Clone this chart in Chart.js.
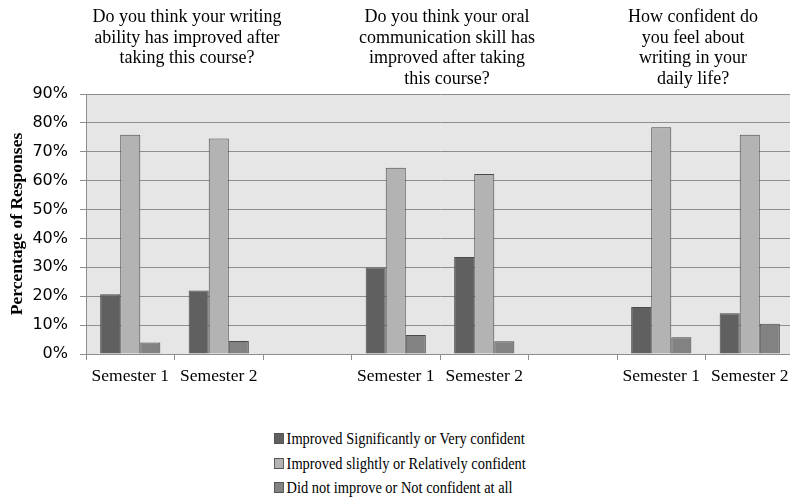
<!DOCTYPE html>
<html>
<head>
<meta charset="utf-8">
<script src="https://cdn.jsdelivr.net/npm/chart.js@4.4.1/dist/chart.umd.min.js"></script>
<style>
  html, body { margin: 0; padding: 0; background: #fff; overflow: hidden; }
  #wrap { position: relative; width: 800px; height: 503px; }
  #legend {
    position: absolute; top: 429px; left: 0; width: 800px; text-align: center;
    font-family: "Liberation Serif", "Times New Roman", serif; font-size: 16px; color: #000;
  }
  #legend ul { display: inline-block; list-style: none; margin: 0; padding: 0; text-align: left; transform: scaleX(0.9); transform-origin: center top; }
  #legend li { height: 24.5px; line-height: 20px; white-space: nowrap; }
  #legend span.box { display: inline-block; width: 9px; height: 9px; margin-right: 3px; border: 1px solid #555; vertical-align: 0px; }
</style>
</head>
<body>
<div id="wrap">
  <canvas id="grafico" width="800" height="392"></canvas>
  <div id="legend"></div>
</div>
<script>
// Dados do gráfico
const categorias = ["Semester 1", "Semester 2", "", "Semester 1", "Semester 2", "", "Semester 1", "Semester 2"];
const muitoConfiante = [20.7, 22.0, null, 29.9, 33.6, null, 16.3, 14.1];
const relativamenteConfiante = [75.9, 74.6, null, 64.5, 62.3, null, 78.5, 75.9];
const naoConfiante = [4.0, 4.5, null, 6.6, 4.4, null, 5.8, 10.5];
const nomesSeries = [
  "Improved Significantly or Very confident",
  "Improved slightly or Relatively confident",
  "Did not improve or Not confident at all"
];
const perguntas = [
  ["Do you think your writing", "ability has improved after", "taking this course?"],
  ["Do you think your oral", "communication skill has", "improved after taking", "this course?"],
  ["How confident do", "you feel about", "writing in your", "daily life?"]
];
const yTicks = [0, 10, 20, 30, 40, 50, 60, 70, 80, 90];

const serif = "'Liberation Serif', 'Times New Roman', serif";

// fundo cinza da área do gráfico
const fundoPlugin = {
  id: "fundo",
  beforeDraw(chart) {
    const { ctx, chartArea: a } = chart;
    ctx.save();
    ctx.fillStyle = "#e6e6e6";
    ctx.fillRect(a.left, a.top, a.right - a.left, a.bottom - a.top);
    ctx.restore();
  }
};

// perguntas acima de cada grupo
const perguntasPlugin = {
  id: "perguntas",
  afterDraw(chart) {
    const ctx = chart.ctx;
    const x = chart.scales.x;
    const posicoes = [0.64, 3.58, 6.36];
    ctx.save();
    ctx.fillStyle = "#000";
    ctx.font = "18px " + serif;
    ctx.textAlign = "center";
    ctx.textBaseline = "middle";
    perguntas.forEach((linhas, i) => {
      const px = x.getPixelForValue(posicoes[i]);
      linhas.forEach((t, j) => ctx.fillText(t, px, 17.5 + j * 20.5));
    });
    ctx.restore();
  }
};

const cores = ["#606060", "#b3b3b3", "#828282"];
const series = [muitoConfiante, relativamenteConfiante, naoConfiante];

const grafico = new Chart(document.getElementById("grafico"), {
  type: "bar",
  data: {
    labels: categorias,
    datasets: series.map((d, i) => ({
      label: nomesSeries[i],
      data: d,
      backgroundColor: cores[i],
      borderColor: "#4a4a4a",
      borderWidth: 1,
      categoryPercentage: 0.68,
      barPercentage: 1.0
    }))
  },
  options: {
    responsive: false,
    animation: false,
    layout: { padding: { top: 94, right: 6, left: 0, bottom: 0 } },
    plugins: {
      legend: { display: false },
      tooltip: { enabled: false }
    },
    scales: {
      y: {
        min: 0,
        max: 90,
        afterBuildTicks: (s) => { s.ticks = yTicks.map(v => ({ value: v })); },
        afterFit: (s) => { s.width = 86; }, // eixo em x = 86
        ticks: {
          callback: (v) => v + "%",
          color: "#000",
          font: { family: "'DejaVu Sans', sans-serif", size: 16 },
          padding: 12
        },
        grid: { color: "#8e8e8e", lineWidth: 1, tickLength: 6 },
        border: { color: "#8e8e8e" },
        title: {
          display: true,
          text: "Percentage of Responses",
          color: "#000",
          font: { family: serif, size: 17.5, weight: "bold" },
          padding: { top: 7, bottom: 0 }
        }
      },
      x: {
        offset: true,
        afterFit: (s) => { s.height = 38; }, // base do gráfico em y = 354
        ticks: {
          color: "#000",
          font: { family: serif, size: 17.5 },
          maxRotation: 0,
          autoSkip: false,
          padding: 6
        },
        grid: { offset: true, drawOnChartArea: false, drawTicks: true, tickLength: 6, color: "#8e8e8e" },
        border: { color: "#8e8e8e" }
      }
    }
  },
  plugins: [fundoPlugin, perguntasPlugin]
});

// legenda em HTML (empilhada)
const ul = document.createElement("ul");
grafico.data.datasets.forEach((ds) => {
  const li = document.createElement("li");
  const box = document.createElement("span");
  box.className = "box";
  box.style.background = ds.backgroundColor;
  li.appendChild(box);
  li.appendChild(document.createTextNode(ds.label));
  ul.appendChild(li);
});
document.getElementById("legend").appendChild(ul);
</script>
</body>
</html>
